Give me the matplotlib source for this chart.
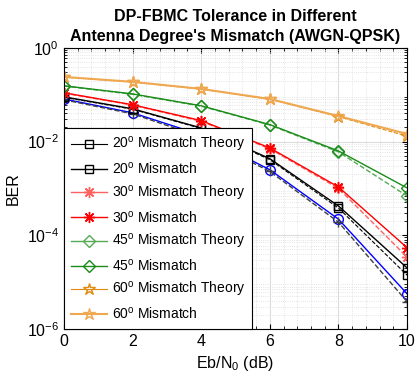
import numpy as np
import matplotlib.pyplot as plt

plt.rcParams['font.family'] = ['Liberation Sans', 'DejaVu Sans']
plt.rcParams['mathtext.fontset'] = 'custom'
plt.rcParams['mathtext.rm'] = 'Liberation Sans'

# Eb/N0 (dB)
snr = [0, 2, 4, 6, 8, 10]

# 0 degree (not in legend)
ber_0_sim = [0.081, 0.041, 0.0138, 2.5e-3, 2.2e-4, 5.6e-6]
ber_0_th = [0.078, 0.039, 0.0125, 2.3e-3, 1.9e-4, 3.8e-6]
# 20 degree
ber_20_th = [0.088, 0.049, 0.019, 4.1e-3, 3.8e-4, 1.4e-5]
ber_20_sim = [0.09, 0.05, 0.0195, 4.3e-3, 4.2e-4, 2.0e-5]
# 30 degree
ber_30_th = [0.108, 0.060, 0.027, 7.0e-3, 1.0e-3, 3.4e-5]
ber_30_sim = [0.11, 0.061, 0.028, 7.3e-3, 1.07e-3, 5.4e-5]
# 45 degree
ber_45_th = [0.153, 0.102, 0.057, 0.0225, 6.0e-3, 6.9e-4]
ber_45_sim = [0.155, 0.104, 0.058, 0.023, 6.3e-3, 1.02e-3]
# 60 degree
ber_60_th = [0.238, 0.186, 0.132, 0.080, 0.034, 0.013]
ber_60_sim = [0.24, 0.188, 0.133, 0.081, 0.035, 0.0145]

ast = (8, 2, 0)  # matlab style asterisk

fig = plt.figure(figsize=(4.15, 3.86), dpi=100)
ax = fig.add_axes([0.154, 0.148, 0.827, 0.728])

ax.semilogy(snr, ber_0_sim, '-o', color='#0000ff', lw=1, ms=7, mfc='none', label='_nolegend_')
ax.semilogy(snr, ber_0_th, '--+', color='#404040', lw=1, ms=7, label='_nolegend_')

ax.semilogy(snr, ber_20_th, '--s', color='black', lw=0.8, ms=6, mfc='none', label='20$^{\\rm o}$ Mismatch Theory')
ax.semilogy(snr, ber_20_sim, '-s', color='black', lw=1, ms=6, mfc='none', label='20$^{\\rm o}$ Mismatch')
ax.semilogy(snr, ber_30_th, '--', marker=ast, color='#ff6060', lw=1, ms=8, label='30$^{\\rm o}$ Mismatch Theory')
ax.semilogy(snr, ber_30_sim, '-', marker=ast, color='#ff0000', lw=1, ms=8, label='30$^{\\rm o}$ Mismatch')
ax.semilogy(snr, ber_45_th, '--D', color='#55aa55', lw=1, ms=6, mfc='none', label='45$^{\\rm o}$ Mismatch Theory')
ax.semilogy(snr, ber_45_sim, '-D', color='#1a8c1a', lw=1, ms=6, mfc='none', label='45$^{\\rm o}$ Mismatch')
ax.semilogy(snr, ber_60_th, '--*', color='#e08a10', lw=0.8, ms=9, mfc='none', label='60$^{\\rm o}$ Mismatch Theory')
ax.semilogy(snr, ber_60_sim, '-*', color='#f0a850', lw=1.5, ms=9, mfc='none', label='60$^{\\rm o}$ Mismatch')

ax.set_xlim(0, 10)
ax.set_ylim(1e-6, 1)
ax.set_xticks([0, 2, 4, 6, 8, 10])
ax.set_yticks([1e-6, 1e-4, 1e-2, 1])
ax.grid(True, which='major', color='#dcdcdc', lw=0.8, ls='-')
ax.grid(True, which='minor', color='#dcdcdc', lw=0.6, ls=':')
ax.xaxis.set_minor_locator(plt.MultipleLocator(0.4))
ax.tick_params(which='both', direction='in', top=True, right=True, labelsize=11.5)
ax.tick_params(which='minor', length=2)
for s in ax.spines.values():
    s.set_linewidth(0.8)

ax.set_xlabel('Eb/N$_0$ (dB)', fontsize=11.5)
ax.set_ylabel('BER', fontsize=11.5)
ax.set_title("DP-FBMC Tolerance in Different\nAntenna Degree's Mismatch (AWGN-QPSK)",
             fontsize=11.5, fontweight='bold', pad=5, linespacing=1.4)

leg = ax.legend(loc='lower left', bbox_to_anchor=(0, 0), borderaxespad=0,
                fontsize=10, fancybox=False, framealpha=1, edgecolor='black',
                handlelength=2.6, handletextpad=0.35, labelspacing=0.48, borderpad=0.5)
leg.get_frame().set_linewidth(0.8)
for ln in leg.get_lines():
    ln.set_linestyle('-')

fig.savefig('out.png', dpi=100)
